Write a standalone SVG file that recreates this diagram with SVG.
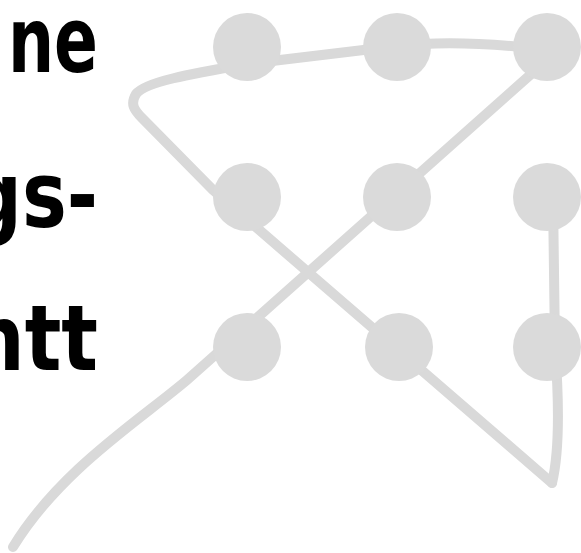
<svg xmlns="http://www.w3.org/2000/svg" width="581" height="553" viewBox="0 0 581 553">
<style>
.ln{fill:none;stroke:#d9d9d9;stroke-width:10;stroke-linecap:round;stroke-linejoin:round}
.dot{fill:#dadada}
.t{font-family:"DejaVu Sans","Liberation Sans",sans-serif;font-weight:bold;font-size:90px;fill:#000}
</style>
<rect width="581" height="553" fill="#fff"/>
<g id="label">
<text class="t" x="8" y="72" textLength="90" lengthAdjust="spacingAndGlyphs">ne</text>
<text class="t" x="-32" y="227" textLength="130" lengthAdjust="spacingAndGlyphs">gs-</text>
<text class="t" x="-30" y="370" textLength="128" lengthAdjust="spacingAndGlyphs">ntt</text>
</g>
<g id="connectors">
<path class="ln" d="M13,547 C60,470 140,420 187,380 L547,60"/>
<path class="ln" d="M547,50 C500,44 450,40 397,46 L247,64 C190,74 145,82 136,94 C130,104 134,110 142,118 L213,190 L552,483"/>
<path class="ln" d="M552,483 C560,450 559,400 555,347 L553,197"/>
</g>
<g id="n11"><circle class="dot" cx="247" cy="47" r="34"/></g>
<g id="n12"><circle class="dot" cx="397" cy="47" r="34"/></g>
<g id="n13"><circle class="dot" cx="547" cy="47" r="34"/></g>
<g id="n21"><circle class="dot" cx="247" cy="197" r="34"/></g>
<g id="n22"><circle class="dot" cx="397" cy="197" r="34"/></g>
<g id="n23"><circle class="dot" cx="547" cy="197" r="34"/></g>
<g id="n31"><circle class="dot" cx="247" cy="347" r="34"/></g>
<g id="n32"><circle class="dot" cx="399" cy="347" r="34"/></g>
<g id="n33"><circle class="dot" cx="547" cy="347" r="34"/></g>
</svg>
